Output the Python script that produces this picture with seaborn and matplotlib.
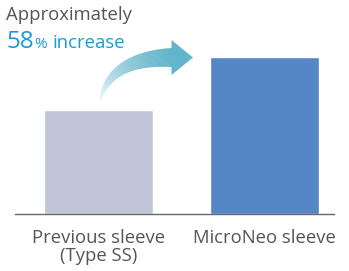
import numpy as np
import pandas as pd
import matplotlib
matplotlib.use("Agg")
import matplotlib.pyplot as plt
from matplotlib.patches import Polygon
import seaborn as sns

categories = ["Previous sleeve\n(Type SS)", "MicroNeo sleeve"]
values = [104, 157]
bar_colors = ["#c0c6d8", "#5586c6"]

sns.set_theme(style="white")
plt.rcParams['font.family'] = ['Open Sans', 'DejaVu Sans']

W, H = 349, 271
fig = plt.figure(figsize=(W / 100, H / 100), dpi=100)
ax = fig.add_axes([15 / W, 57 / H, 319 / W, 214 / H])

df = pd.DataFrame({"cat": categories, "val": values})
sns.barplot(data=df, x="cat", y="val", hue="cat", palette=bar_colors,
            width=0.657, legend=False, ax=ax, saturation=1)
ax.set_xlim(-0.503, 1.419)
ax.set_ylim(0, 214)
ax.set_xlabel("")
ax.set_ylabel("")
ax.set_yticks([])
for s in ["top", "right", "left"]:
    ax.spines[s].set_visible(False)
ax.spines["bottom"].set_color("#666666")
ax.spines["bottom"].set_linewidth(1.0)
ax.tick_params(axis="x", length=0, pad=11, labelsize=13.3, labelcolor="#555555")
for lbl in ax.get_xticklabels():
    lbl.set_linespacing(1.0)

# overlay in pixel coordinates for annotations
ov = fig.add_axes([0, 0, 1, 1])
ov.set_xlim(0, W)
ov.set_ylim(H, 0)
ov.axis("off")
ov.patch.set_alpha(0)

# curved gradient arrow
p0 = np.array([100.0, 101.0])
pc = np.array([110.0, 58.0])
p1 = np.array([172.0, 57.5])
n = 60
ts = np.linspace(0, 1, n + 1)
pts = ((1 - ts)[:, None] ** 2) * p0 + (2 * (1 - ts) * ts)[:, None] * pc + (ts ** 2)[:, None] * p1
d = 2 * (1 - ts)[:, None] * (pc - p0) + 2 * ts[:, None] * (p1 - pc)
nrm = np.stack([-d[:, 1], d[:, 0]], axis=1)
nrm /= np.linalg.norm(nrm, axis=1)[:, None]
widths = 1.0 + 18.0 * ts ** 0.8
up = pts + nrm * (widths / 2)[:, None]
lo = pts - nrm * (widths / 2)[:, None]
acol = "#62b5cb"
for i in range(n):
    poly = [up[i], up[i + 1] + 0.3 * (up[i + 1] - up[i]), lo[i + 1] + 0.3 * (lo[i + 1] - lo[i]), lo[i]]
    a = min(1.0, 0.05 + 0.95 * ((ts[i] + ts[i + 1]) / 2) ** 0.9)
    ov.add_patch(Polygon(poly, closed=True, facecolor=acol, edgecolor="none", alpha=a))
ov.add_patch(Polygon([[171.5, 40], [193, 57.5], [171.5, 75]], closed=True,
                     facecolor=acol, edgecolor="none"))

# headline text
gray = "#555555"
blue = "#1a9ad6"
ov.text(6, 20, "Approximately", fontsize=13.3, color=gray, va="baseline", ha="left")
ov.text(6, 47.5, "58", fontsize=17.5, color=blue, va="baseline", ha="left")
ov.text(34, 47.5, "%", fontsize=11, color=blue, va="baseline", ha="left")
ov.text(52, 47.5, "increase", fontsize=13.3, color=blue, va="baseline", ha="left")

fig.savefig("out.png", dpi=100)
